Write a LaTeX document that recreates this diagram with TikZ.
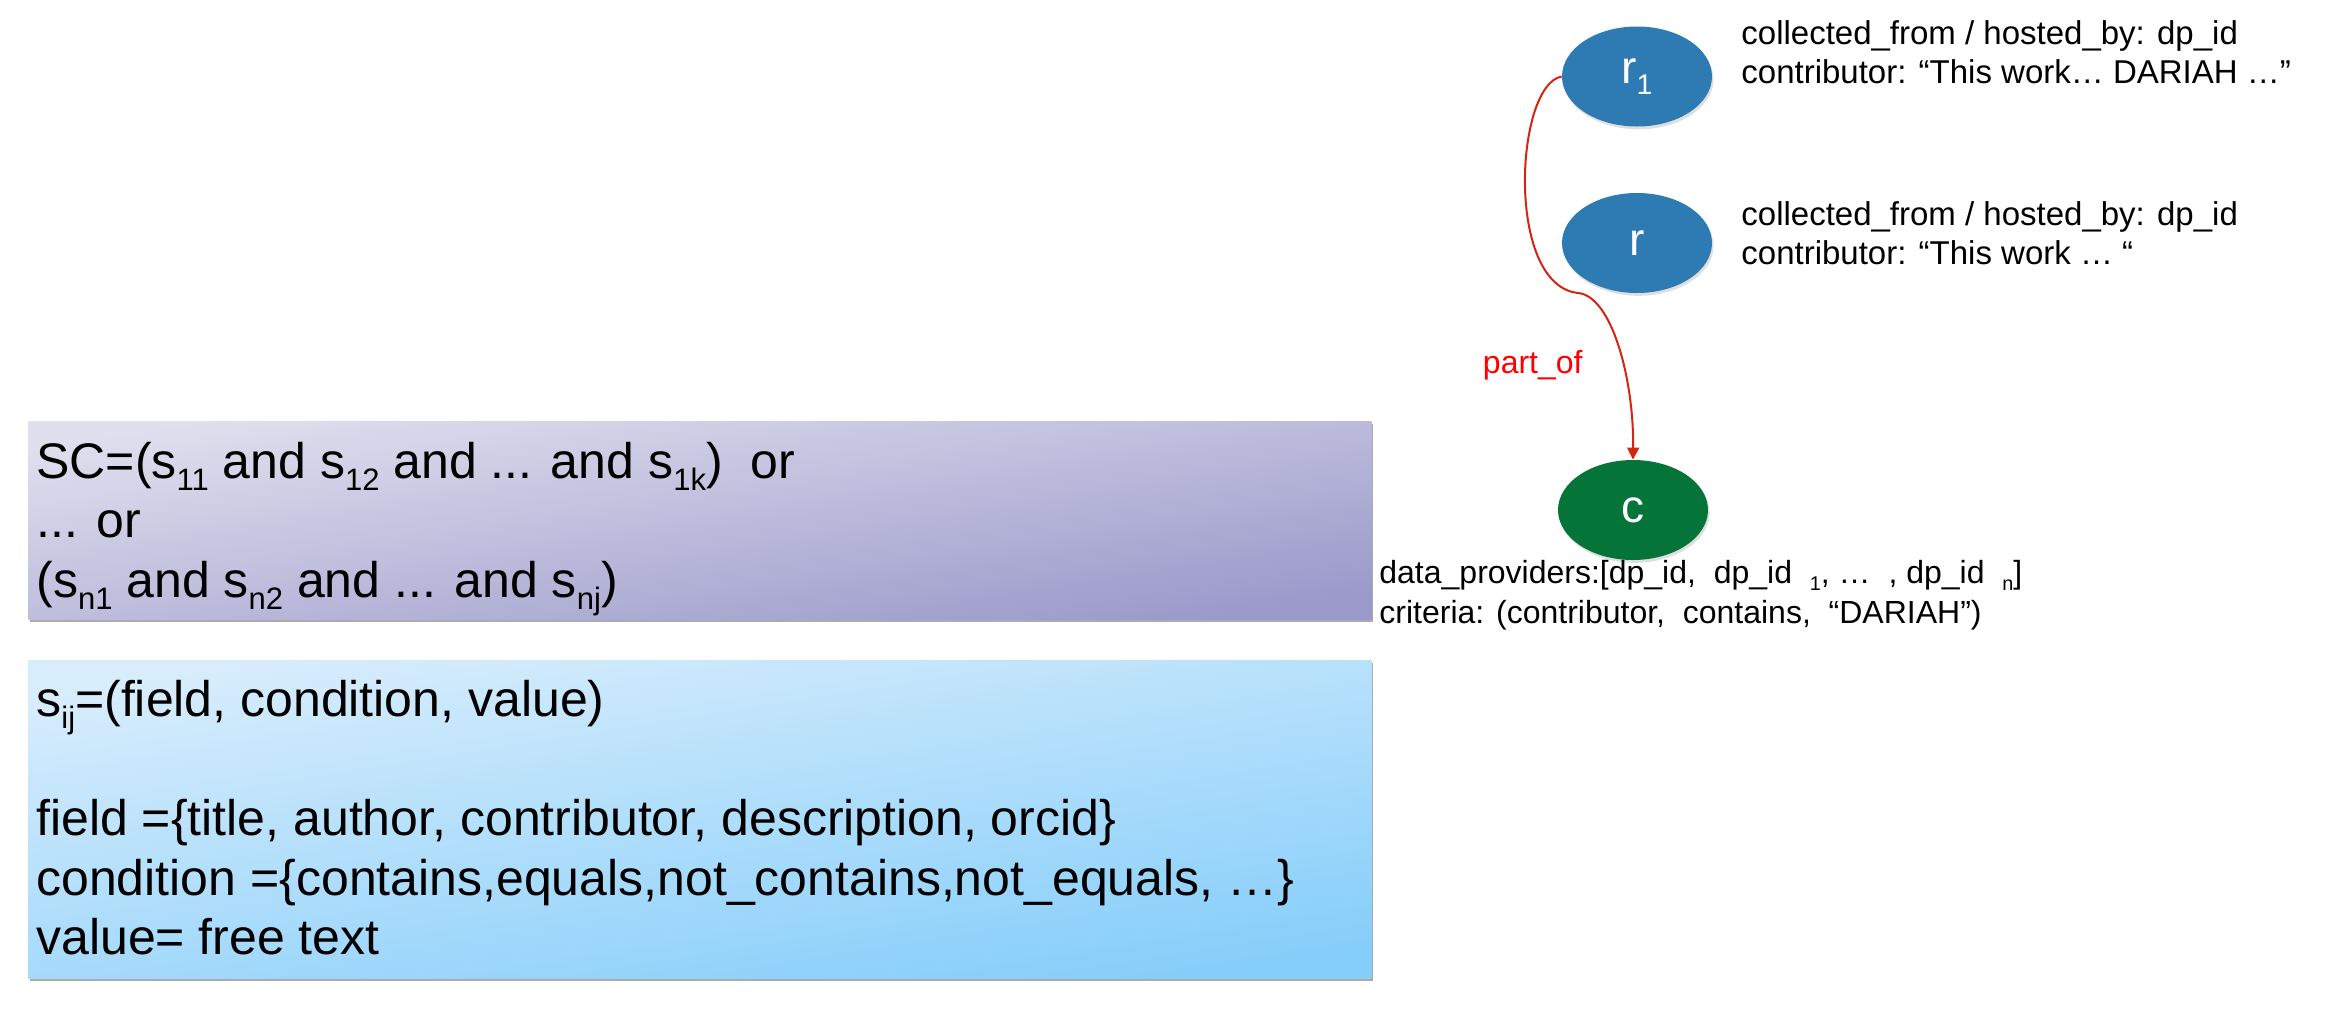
\documentclass[tikz,border=0pt]{standalone}
\usepackage{graphicx}
\usepackage{fontspec}
\setmainfont{Liberation Sans}
\usetikzlibrary{shapes.geometric, arrows.meta, shadows}

\definecolor{nodeblue}{RGB}{46,122,178}
\definecolor{nodegreen}{RGB}{4,116,57}
\definecolor{arrowred}{RGB}{214,36,18}
\definecolor{lilactop}{RGB}{224,223,238}
\definecolor{lilacbot}{RGB}{154,153,202}
\definecolor{skytop}{RGB}{216,237,252}
\definecolor{skybot}{RGB}{134,206,250}

% lowered, reduced index
\newcommand{\lo}[1]{\raisebox{-0.24em}{\scalebox{0.62}{#1}}}
\newcommand{\panelfont}{\fontsize{25pt}{29.75pt}\selectfont}
\newcommand{\notefont}{\fontsize{16.5pt}{19.5pt}\selectfont}
\newcommand{\critfont}{\fontsize{16pt}{20pt}\selectfont}

\begin{document}
\begin{tikzpicture}[x=0.5pt, y=-0.5pt,
  panel/.style={rectangle, draw=none, inner sep=0, minimum width=671.5pt,
    anchor=north west,
    drop shadow={shadow xshift=0.7pt, shadow yshift=-1.2pt, fill=black!55, opacity=0.6}},
  sctext/.style={anchor=base west, inner sep=0, font=\panelfont},
  record/.style={ellipse, fill=nodeblue, minimum width=75pt, minimum height=50pt,
    inner sep=0, text=white, font=\fontsize{23pt}{27pt}\selectfont,
    drop shadow={shadow xshift=0.8pt, shadow yshift=-1.4pt, opacity=0.25}},
  community/.style={record, fill=nodegreen},
  note/.style={anchor=base west, inner sep=0, font=\notefont},
  crit/.style={anchor=base west, inner sep=0, font=\critfont},
  link/.style={draw=arrowred, line width=1pt, -{Triangle[length=6pt,width=6pt]}},
  linklabel/.style={anchor=base east, inner sep=0, text=red, font=\fontsize{16pt}{19pt}\selectfont}
]
\useasboundingbox (0,0) rectangle (2331,1008);

% condition panels
\node[panel, minimum height=99pt, top color=lilactop, bottom color=lilacbot, shading angle=9]
  (scbox) at (28,421) {};
\node[panel, minimum height=159pt, top color=skytop, bottom color=skybot, shading angle=9]
  (sijbox) at (28,660) {};

\node[sctext] (sc) at (36,478) {\begin{tabular}[t]{@{}l@{}}
SC=(s\lo{11} and s\lo{12} and ... and s\lo{1k})\ \ or\\
... or\\
(s\lo{n1} and s\lo{n2} and ... and s\lo{nj})
\end{tabular}};

\node[sctext] (sij) at (36,716) {\begin{tabular}[t]{@{}l@{}}
s\lo{ij}=(field, condition, value)\\
\\
field =\{title, author, contributor, description, orcid\}\\
condition =\{contains,equals,not\_contains,not\_equals, …\}\\
value= free text
\end{tabular}};

% records and community
\node[record] (r1) at (1637,76.5) {r\lo{1}};
\node[record] (r) at (1637,243) {r};
\node[community] (c) at (1633,510) {c};

\node[note] (r1note) at (1741,44) {\begin{tabular}[t]{@{}l@{}}
collected\_from / hosted\_by: dp\_id\\
contributor: “This work… DARIAH …”
\end{tabular}};

\node[note] (rnote) at (1741,225) {\begin{tabular}[t]{@{}l@{}}
collected\_from / hosted\_by: dp\_id\\
contributor: “This work … “
\end{tabular}};

\node[crit] (cnote) at (1379,583) {\begin{tabular}[t]{@{}l@{}}
data\_providers:[dp\_id,\ \ dp\_id\ \ \lo{1}, …\ \ ,\ dp\_id\ \ \lo{n}]\\
criteria: (contributor,\ \ contains,\ \ “DARIAH”)
\end{tabular}};

% part_of relation
\coordinate (bend) at (1578,293);
\draw[link] (r1.west) .. controls (1515,85) and (1505,285) .. (bend)
  .. controls (1612,296) and (1634,380) .. (c.north);
\node[linklabel] (partof) at (1583,373) {part\_of};
\end{tikzpicture}
\end{document}
